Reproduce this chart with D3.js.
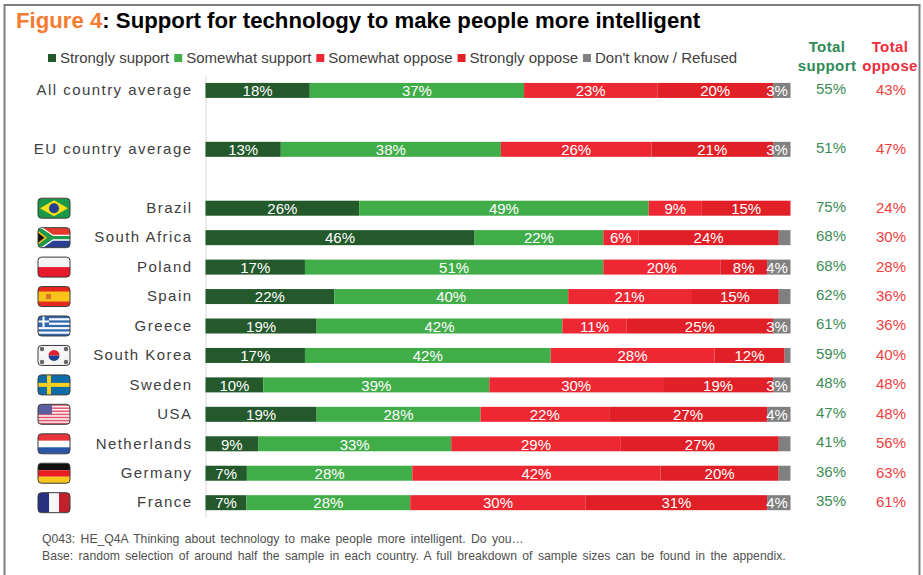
<!DOCTYPE html>
<html>
<head>
<meta charset="utf-8">
<script src="https://cdn.jsdelivr.net/npm/d3@7/dist/d3.min.js"></script>
<style>
  html, body { margin: 0; padding: 0; background: #fff; }
  svg { display: block; font-family: "Liberation Sans", Arial, sans-serif; }
</style>
</head>
<body>
<div id="chart"></div>
<script>
// Survey rows, top to bottom; the two blank slots separate the averages from the countries.
const rows = ["All country average", " ", "EU country average", "  ", "Brazil", "South Africa", "Poland", "Spain", "Greece", "South Korea", "Sweden", "USA", "Netherlands", "Germany", "France"];
const categories = ["All country average", "EU country average", "Brazil", "South Africa", "Poland", "Spain", "Greece", "South Korea", "Sweden", "USA", "Netherlands", "Germany", "France"];

const seriesNames = ["Strongly support", "Somewhat support", "Somewhat oppose", "Strongly oppose", "Don't know / Refused"];
const seriesColors = ["#23592b", "#41ad49", "#ee2833", "#e01f26", "#808080"];

const stronglySupport = [18, 13, 26, 46, 17, 22, 19, 17, 10, 19, 9, 7, 7];
const somewhatSupport = [37, 38, 49, 22, 51, 40, 42, 42, 39, 28, 33, 28, 28];
const somewhatOppose  = [23, 26, 9, 6, 20, 21, 11, 28, 30, 22, 29, 42, 30];
const stronglyOppose  = [20, 21, 15, 24, 8, 15, 25, 12, 19, 27, 27, 20, 31];
const dontKnow        = [3, 3, 0, 2, 4, 2, 3, 1, 3, 4, 2, 2, 4];

const totalSupport = [55, 51, 75, 68, 68, 62, 61, 59, 48, 47, 41, 36, 35];
const totalOppose  = [43, 47, 24, 30, 28, 36, 36, 40, 48, 48, 56, 63, 61];

const flagCodes = [null, null, "br", "za", "pl", "es", "gr", "kr", "se", "us", "nl", "de", "fr"];

const footnotes = [
  "Q043: HE_Q4A Thinking about technology to make people more intelligent. Do you\u2026",
  "Base: random selection of around half the sample in each country. A full breakdown of sample sizes can be found in the appendix."
];

const seriesValues = [stronglySupport, somewhatSupport, somewhatOppose, stronglyOppose, dontKnow];
const table = categories.map((name, i) => {
  const row = { name };
  seriesNames.forEach((s, k) => { row[s] = seriesValues[k][i]; });
  return row;
});

const width = 923, height = 575;
const svg = d3.select("#chart").append("svg").attr("width", width).attr("height", height);

// Page frame: left, top and right edges only.
svg.append("path")
  .attr("d", `M4.5,575V5H919.5V575`)
  .attr("fill", "none").attr("stroke", "#7f7f7f").attr("stroke-width", 2);

// Title
const title = svg.append("text").attr("x", 16).attr("y", 27.5)
  .attr("font-size", 22.2).attr("font-weight", "bold").attr("fill", "#000");
title.append("tspan").attr("fill", "#f47b30").text("Figure 4");
title.append("tspan").text(": Support for technology to make people more intelligent");

const x = d3.scaleLinear().domain([0, 1]).range([205.5, 790.5]);
const y = d3.scaleBand().domain(rows).range([75.7, 517.4]);
const barHeight = 15;

// Legend: swatch plus label, laid out by measured text width.
const legend = svg.append("g");
let legendX = 48;
seriesNames.forEach((name, i) => {
  legend.append("rect").attr("x", legendX).attr("y", 54).attr("width", 8).attr("height", 8).attr("fill", seriesColors[i]);
  const t = legend.append("text").attr("x", legendX + 12).attr("y", 63)
    .attr("font-size", 15).attr("fill", "#404040").text(name);
  legendX += 12 + t.node().getComputedTextLength() + 5;
});

// Category axis on the left of the bars.
const axis = svg.append("g").attr("transform", "translate(205.5,0)")
  .call(d3.axisLeft(y).tickValues(categories).tickSize(0).tickPadding(13));
axis.select(".domain").attr("stroke", "#d9d9d9");
axis.selectAll("text")
  .attr("font-family", "'Liberation Sans', Arial, sans-serif")
  .attr("font-size", 15).attr("letter-spacing", 1.45).attr("fill", "#404040");

// 100% stacked bars.
const stacked = d3.stack().keys(seriesNames).offset(d3.stackOffsetExpand)(table);
const layers = svg.append("g").selectAll("g").data(stacked).join("g")
  .attr("fill", (d, i) => seriesColors[i]);
layers.selectAll("rect").data(d => d).join("rect")
  .attr("x", d => x(d[0]))
  .attr("y", d => y(d.data.name) + y.bandwidth() / 2 - barHeight / 2)
  .attr("width", d => x(d[1]) - x(d[0]))
  .attr("height", barHeight);

// Segment labels; the smallest shares stay unlabelled and edge labels stay inside the bar.
const labels = svg.append("g").attr("font-size", 15).attr("fill", "#fff").attr("text-anchor", "middle");
stacked.forEach(layer => {
  layer.forEach(d => {
    const value = d.data[layer.key];
    if (value < 3) return;
    const cx = Math.min((x(d[0]) + x(d[1])) / 2, x(1) - 13.5);
    labels.append("text").attr("x", cx)
      .attr("y", y(d.data.name) + y.bandwidth() / 2 + 5.8)
      .text(value + "%");
  });
});

// Total columns
const totals = svg.append("g").attr("text-anchor", "middle").attr("font-size", 15);
[["Total", 52], ["support", 71]].forEach(([s, by]) =>
  totals.append("text").attr("x", 827).attr("y", by).attr("font-weight", "bold")
    .attr("letter-spacing", 0.4).attr("fill", "#2e8b57").text(s));
[["Total", 51.5], ["oppose", 70.5]].forEach(([s, by]) =>
  totals.append("text").attr("x", 890).attr("y", by).attr("font-weight", "bold")
    .attr("letter-spacing", 0.4).attr("fill", "#ed2c3b").text(s));
categories.forEach((name, i) => {
  const cy = y(name) + y.bandwidth() / 2;
  totals.append("text").attr("x", 831).attr("y", cy + 3.5).attr("fill", "#3c8b55").text(totalSupport[i] + "%");
  totals.append("text").attr("x", 891).attr("y", cy + 4.5).attr("fill", "#ef4040").text(totalOppose[i] + "%");
});

// Flags, drawn in a local 32x20 box.
function drawFlag(g, code) {
  const rect = (x0, y0, w, h, c) => g.append("rect").attr("x", x0).attr("y", y0).attr("width", w).attr("height", h).attr("fill", c);
  const poly = (pts, c) => g.append("polygon").attr("points", pts).attr("fill", c);
  const circle = (cx, cy, r, c) => g.append("circle").attr("cx", cx).attr("cy", cy).attr("r", r).attr("fill", c);
  if (code === "br") {
    rect(0, 0, 32, 20, "#1a9a47"); poly("16,2 30,10 16,18 2,10", "#f7e017"); circle(16, 10, 5, "#24408e");
  } else if (code === "za") {
    rect(0, 0, 32, 10, "#e4392f"); rect(0, 10, 32, 10, "#2a3f90");
    poly("0,0 5,0 15,7 32,7 32,13 15,13 5,20 0,20", "#fff");
    poly("0,1 4,1 15,8.3 32,8.3 32,11.7 15,11.7 4,19 0,19", "#1f9a4d");
    poly("0,3 9,10 0,17", "#f7c51e"); poly("0,5 6.5,10 0,15", "#111");
  } else if (code === "pl") {
    rect(0, 0, 32, 10, "#f4f4f4"); rect(0, 10, 32, 10, "#e8192c");
  } else if (code === "es") {
    rect(0, 0, 32, 20, "#e62b1e"); rect(0, 5, 32, 10, "#f9c31a"); rect(8, 7.5, 5, 5, "#d8712a");
  } else if (code === "gr") {
    rect(0, 0, 32, 20, "#f6f8fb");
    [0, 4.4, 8.9, 13.3, 17.8].forEach(v => rect(0, v, 32, 2.2, "#2e65ad"));
    rect(0, 0, 11, 11, "#2e65ad"); rect(4.5, 0, 2, 11, "#fff"); rect(0, 4.5, 11, 2, "#fff");
  } else if (code === "kr") {
    rect(0, 0, 32, 20, "#f5f5f5");
    g.append("path").attr("d", "M10.5,10a5.5,5.5 0 0 1 11,0z").attr("fill", "#e0202c");
    g.append("path").attr("d", "M10.5,10a5.5,5.5 0 0 0 11,0z").attr("fill", "#20408e");
    [[4, 3.5], [28, 3.5], [4, 16.5], [28, 16.5]].forEach(p => circle(p[0], p[1], 2.2, "#666"));
  } else if (code === "se") {
    rect(0, 0, 32, 20, "#0f6cab"); rect(9, 0, 4, 20, "#f8cf1d"); rect(0, 8, 32, 4, "#f8cf1d");
  } else if (code === "us") {
    rect(0, 0, 32, 20, "#fbeef0");
    [0, 3.1, 6.2, 9.3, 12.4, 15.5, 18.5].forEach(v => rect(0, v, 32, 1.5, "#e05a70"));
    rect(0, 0, 14, 10, "#5a5f9e");
  } else if (code === "nl") {
    rect(0, 0, 32, 7, "#e8343a"); rect(0, 7, 32, 6.5, "#fff"); rect(0, 13.5, 32, 6.5, "#2c55a8");
  } else if (code === "de") {
    rect(0, 0, 32, 7, "#111"); rect(0, 7, 32, 6.5, "#ea1c24"); rect(0, 13.5, 32, 6.5, "#f7c61a");
  } else if (code === "fr") {
    rect(0, 0, 11, 20, "#27307f"); rect(11, 0, 10, 20, "#f7f7f7"); rect(21, 0, 11, 20, "#c1202c");
  }
}
const defs = svg.append("defs");
defs.append("clipPath").attr("id", "flag-clip").append("rect")
  .attr("width", 32).attr("height", 20).attr("rx", 3.5);
categories.forEach((name, i) => {
  if (!flagCodes[i]) return;
  const g = svg.append("g").attr("transform", `translate(38,${y(name) + y.bandwidth() / 2 - 10})`);
  drawFlag(g.append("g").attr("clip-path", "url(#flag-clip)"), flagCodes[i]);
  g.append("rect").attr("width", 32).attr("height", 20).attr("rx", 3.5)
    .attr("fill", "none").attr("stroke", "#3a3a3a").attr("stroke-width", 1);
});

// Footnotes
footnotes.forEach((line, i) => {
  svg.append("text").attr("x", 42).attr("y", 543 + i * 17)
    .attr("font-size", 12.2).attr("word-spacing", 2).attr("fill", "#505050").text(line);
});
</script>
</body>
</html>
